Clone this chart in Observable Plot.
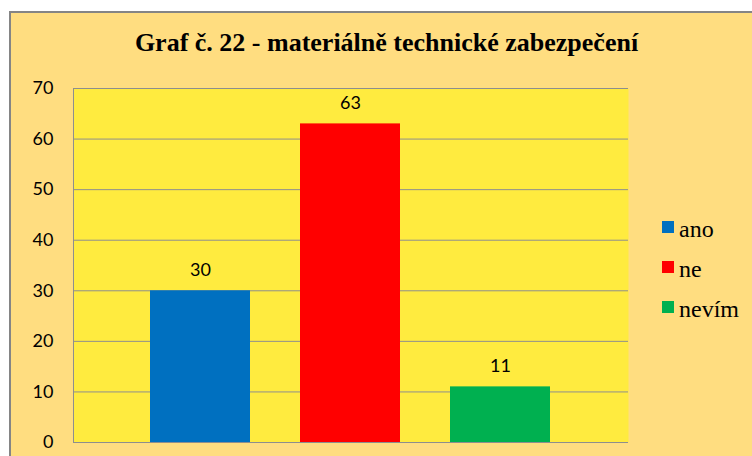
<!DOCTYPE html>
<html>
<head>
<meta charset="utf-8">
<script src="https://cdn.jsdelivr.net/npm/d3@7"></script>
<script src="https://cdn.jsdelivr.net/npm/@observablehq/plot@0.6"></script>
<style>
  html, body { margin: 0; padding: 0; background: #ffffff; }
  body { width: 752px; height: 456px; overflow: hidden; position: relative; }
  #frame {
    position: absolute; left: 9px; top: 11px; width: 780px; height: 480px;
    background: #FFDD80; border: 2px solid #858585; box-sizing: border-box;
  }
  #chart { position: absolute; left: 0; top: 0; }
  .item { height: 40px; display: flex; align-items: center; }
  .sw { width: 12px; height: 12px; margin-right: 5px; margin-top: -4px; }
</style>
</head>
<body>
<div id="frame"></div>
<div id="chart"></div>
<div id="title" style="position:absolute; left:0; top:28px; width:773px; text-align:center; font-family:'Liberation Serif'; font-weight:bold; font-size:26px; color:#000; white-space:nowrap;">Graf č. 22 - materiálně technické zabezpečení</div>
<div id="legend" style="position:absolute; left:662px; top:209px; font-family:'Liberation Serif'; font-size:24px; color:#000;"></div>
<script>
const categories = ["ano", "ne", "nevím"];
const values = [30, 63, 11];
const colors = ["#0070C0", "#FF0000", "#00B050"];
const yTicks = [0, 10, 20, 30, 40, 50, 60, 70];

const data = categories.map((c, i) => ({category: c, value: values[i]}));

const chart = Plot.plot({
  width: 752,
  height: 456,
  marginLeft: 73,
  marginRight: 124,
  marginTop: 88,
  marginBottom: 14,
  style: {background: "transparent", fontSize: "18px", color: "#000", overflow: "visible"},
  x: {domain: categories, paddingInner: 0.332, paddingOuter: 0.51, axis: null},
  y: {domain: [0, 70], ticks: yTicks},
  color: {domain: categories, range: colors},
  marks: [
    Plot.frame({fill: "#FFEB3F", stroke: null}),
    Plot.gridY(yTicks, {stroke: "#8E8E8E", strokeOpacity: 1, strokeWidth: 1}),
    Plot.frame({anchor: "left", stroke: "#8E8E8E", strokeWidth: 1}),
    Plot.barY(data, {x: "category", y: "value", fill: "category"}),
    Plot.text(data, {x: "category", y: "value", text: d => String(d.value), dy: -21, fontSize: 18, fontFamily: "Lato", fill: "#000"}),
    Plot.axisY(yTicks, {tickSize: 0, tickPadding: 20, label: null, fontSize: 18, fontFamily: "Lato", fill: "#000"})
  ]
});
document.getElementById("chart").appendChild(chart);

const legend = document.getElementById("legend");
categories.forEach((c, i) => {
  const item = document.createElement("div");
  item.className = "item";
  const sw = document.createElement("span");
  sw.className = "sw";
  sw.style.background = colors[i];
  const t = document.createElement("span");
  t.textContent = c;
  item.appendChild(sw);
  item.appendChild(t);
  legend.appendChild(item);
});
</script>
</body>
</html>
